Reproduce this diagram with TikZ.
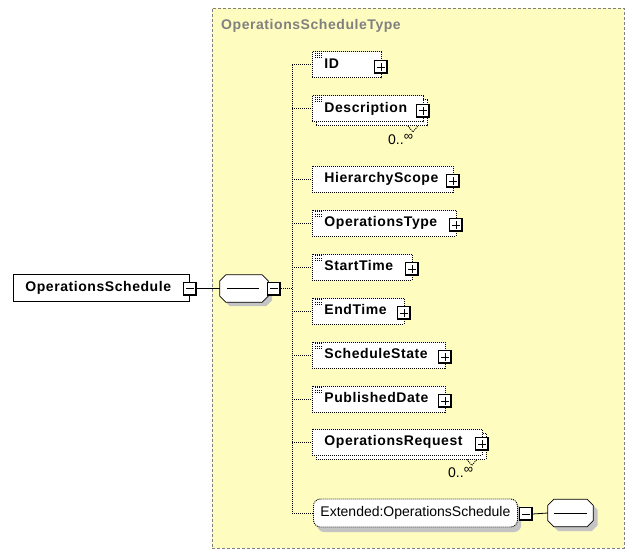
\documentclass[tikz,border=0pt]{standalone}
\usepackage{fontspec}
\setmainfont{Liberation Sans}
\newfontfamily\spaced[LetterSpace=4]{Liberation Sans}
\usetikzlibrary{positioning}
\definecolor{typefill}{RGB}{255,252,192}
\definecolor{typegray}{RGB}{128,128,128}
\definecolor{shade}{RGB}{196,196,196}
\newcommand\bfname{\spaced\bfseries\fontsize{14}{16}\selectfont}
\newcommand\rgname{\fontsize{14}{16}\selectfont}
\newcommand\many{0..\raisebox{4pt}{\fontsize{13}{13}\selectfont ∞}}
% octagon round a node
\newcommand\octa[2][]{%
  \draw[#1] ([xshift=6]#2.north west) -- ([xshift=-6]#2.north east) -- ([yshift=-6]#2.north east)
    -- ([yshift=6]#2.south east) -- ([xshift=-6]#2.south east) -- ([xshift=6]#2.south west)
    -- ([yshift=6]#2.south west) -- ([yshift=-6]#2.north west) -- cycle;}

\begin{document}
\begin{tikzpicture}
  [x=1pt,y=-1pt,
   dots/.style={line width=.9pt,dash pattern=on 1pt off 1pt},
   el/.style={draw,fill=white,dots,anchor=west,minimum height=26,inner xsep=12pt,inner ysep=0pt,
     text width=#1,align=left,text height=10pt,text depth=3pt,font=\bfname},
   back/.style={draw,fill=white,dots,anchor=west,minimum height=26,minimum width=#1,inner sep=0pt},
   simple/.style={path picture={\foreach \k in {0,1,2}
     \draw[line width=.6pt] ([xshift=3,yshift={-1.5-2.3*\k}]path picture bounding box.north west) -- ++(7,0);}},
   minus/.style={draw,fill=white,minimum size=13,inner sep=0pt,line width=.8pt,path picture={
     \draw[line width=2.2pt] (path picture bounding box.north east) -- (path picture bounding box.south east)
       -- (path picture bounding box.south west);
     \draw ([xshift=2.5]path picture bounding box.west) -- ([xshift=-2.5]path picture bounding box.east);}},
   plus/.style={draw,fill=white,minimum size=13,inner sep=0pt,line width=.8pt,path picture={
     \draw[line width=2.2pt] (path picture bounding box.north east) -- (path picture bounding box.south east)
       -- (path picture bounding box.south west);
     \draw ([xshift=2.5]path picture bounding box.west) -- ([xshift=-2.5]path picture bounding box.east);
     \draw ([yshift=-2.5]path picture bounding box.north) -- ([yshift=2.5]path picture bounding box.south);}},
   comp/.style={inner sep=0pt,minimum width=#1,minimum height=27},
   mult/.style={anchor=base west,inner sep=0pt,font=\rgname}]
  \useasboundingbox (0,0) rectangle (636,554);
  \node[draw=typegray,fill=typefill,dash pattern=on 3pt off 2pt,anchor=north west,
    minimum width=412,minimum height=540] (type) at (212,7.5) {};
  \node[anchor=base west,inner sep=0pt,font=\bfname,text=typegray] (title) at (221,29) {OperationsScheduleType};

  % root element and sequence
  \node[draw,fill=white,line width=.8pt,anchor=west,minimum height=27,inner xsep=12pt,
    text width=152pt,align=left,text height=10pt,text depth=3pt,font=\bfname] (os) at (13,287.5) {OperationsSchedule};
  \node[minus] (os-pm) at (190,288.5) {};
  \node[comp=48] (seq-sh) at (248,292.5) {};
  \node[comp=48] (seq) at (244,288.5) {};
  \octa[fill=shade,draw=none]{seq-sh}
  \octa[fill=white,line width=.8pt]{seq}
  \draw[line width=.8pt] ([xshift=7]seq.west) -- ([xshift=-9]seq.east);
  \node[minus] (seq-pm) at (274,288.5) {};

  % children
  \node[el=45pt,simple] (id) at (312,64.5) {ID};
  \node[plus] (id-pm) at (381,67) {};
  \node[back=111] (desc2) at (316,112.5) {};
  \node[el=87pt,simple] (desc) at (312,108.5) {Description};
  \node[plus] (desc-pm) at (423,110.5) {};
  \draw[dots] ([xshift=-20]desc2.south east) -- ++(5,6) -- ++(5,-6);
  \node[mult] (desc-m) at (388,144) {\many};
  \node[el=117pt] (hs) at (312,179) {HierarchyScope};
  \node[plus] (hs-pm) at (453,181) {};
  \node[el=120pt,simple] (ot) at (312,223) {OperationsType};
  \node[plus] (ot-pm) at (456,225) {};
  \node[el=76pt,simple] (st) at (312,267) {StartTime};
  \node[plus] (st-pm) at (412,269) {};
  \node[el=68pt,simple] (et) at (312,311) {EndTime};
  \node[plus] (et-pm) at (404,313) {};
  \node[el=109pt,simple] (ss) at (312,355) {ScheduleState};
  \node[plus] (ss-pm) at (445,357) {};
  \node[el=109pt,simple] (pd) at (312,399) {PublishedDate};
  \node[plus] (pd-pm) at (445,401) {};
  \node[back=170] (or2) at (316,446) {};
  \node[el=146pt] (or) at (312,442) {OperationsRequest};
  \node[plus] (or-pm) at (482,444) {};
  \draw[dots] ([xshift=-20]or2.south east) -- ++(5,6) -- ++(5,-6);
  \node[mult] (or-m) at (448,477) {\many};
  \node[fill=shade,rounded corners=7pt,anchor=west,minimum height=28,minimum width=204] (ext-sh) at (317,518) {};
  \node[draw,fill=white,dots,rounded corners=7pt,anchor=west,minimum height=28,inner xsep=7pt,
    text width=190pt,align=left,text height=10pt,text depth=3pt,font=\rgname] (ext) at (313,513) {Extended:OperationsSchedule};
  \node[minus] (ext-pm) at (525.5,514) {};
  \node[comp=45] (seq2-sh) at (575,517.5) {};
  \node[comp=45] (seq2) at (570.5,513) {};
  \octa[fill=shade,draw=none]{seq2-sh}
  \octa[fill=white,line width=.8pt]{seq2}
  \draw[line width=.8pt] ([xshift=6]seq2.west) -- ([xshift=-6]seq2.east);

  % connectors
  \coordinate (top) at (292,64.5);
  \draw[line width=.8pt] (os-pm.east) -- (seq.west);
  \draw[dots] (seq-pm.east) -- (seq-pm.east -| top);
  \draw[dots] (id.west -| top) -- (ext.west -| top);
  \foreach \n in {id,desc,hs,ot,st,et,ss,pd,or,ext}
    \draw[dots] (\n.west -| top) -- (\n.west);
  \draw[line width=.8pt] (ext-pm.east) -- (seq2.west);
\end{tikzpicture}
\end{document}
